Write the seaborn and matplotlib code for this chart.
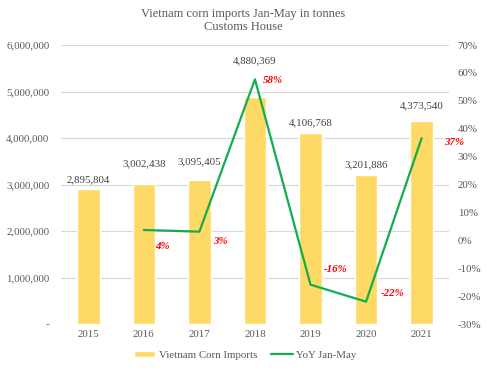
import numpy as np
import pandas as pd
import matplotlib
matplotlib.use("Agg")
import matplotlib.pyplot as plt
import matplotlib.ticker as mticker
import seaborn as sns

years = ["2015", "2016", "2017", "2018", "2019", "2020", "2021"]
imports = [2895804, 3002438, 3095405, 4880369, 4106768, 3201886, 4373540]
yoy_years = ["2016", "2017", "2018", "2019", "2020", "2021"]
yoy = [3.7, 3.1, 57.7, -15.9, -22.0, 36.6]
yoy_labels = ["4%", "3%", "58%", "-16%", "-22%", "37%"]
title = "Vietnam corn imports Jan-May in tonnes\nCustoms House"

sns.set_theme(style="white")
plt.rcParams["font.family"] = ["Liberation Serif", "DejaVu Serif"]

GRAY = "#595959"
BAR = "#FFD966"
GREEN = "#12AD4E"
FS = 7.8

fig = plt.figure(figsize=(4.86, 3.70), dpi=100)
ax = fig.add_axes([60.5 / 486, 1 - 324 / 370, (449.4 - 60.5) / 486, (324 - 45) / 370])

df = pd.DataFrame({"year": years, "imports": imports})
sns.barplot(data=df, x="year", y="imports", color=BAR, width=0.405, ax=ax,
            saturation=1, label="Vietnam Corn Imports", legend=False)
ax.set_ylim(0, 6000000)
ax.set_xlim(-0.5, len(years) - 0.5)
ax.yaxis.set_major_locator(mticker.MultipleLocator(1000000))
ax.yaxis.set_major_formatter(mticker.FuncFormatter(lambda v, p: "-" if v == 0 else f"{int(v):,}"))
ax.grid(axis="y", color="#D9D9D9", lw=0.8)
ax.set_axisbelow(True)
for s in ax.spines.values():
    s.set_visible(False)
ax.set_xlabel("")
ax.set_ylabel("")
ax.tick_params(axis="y", length=0, pad=8, labelsize=FS, labelcolor=GRAY)
ax.tick_params(axis="x", length=0, pad=4, labelsize=FS, labelcolor=GRAY)

# value labels (pixel offsets above bar tops)
val_off = [10, 21, 18, 36, 10, 10, 15]
for i, (v, off) in enumerate(zip(imports, val_off)):
    ax.annotate(f"{v:,}", (i, v), xytext=(0, off * 0.72), textcoords="offset points",
                ha="center", va="center", fontsize=FS, color="#404040")

ax2 = ax.twinx()
pos = [years.index(y) for y in yoy_years]
sns.lineplot(x=pos, y=yoy, ax=ax2, color=GREEN, lw=1.6, label="YoY Jan-May", legend=False)
ax2.set_ylim(-30, 70)
ax2.yaxis.set_major_locator(mticker.MultipleLocator(10))
ax2.yaxis.set_major_formatter(mticker.FuncFormatter(lambda v, p: f"{int(round(v))}%"))
ax2.tick_params(axis="y", length=0, pad=6, labelsize=FS, labelcolor=GRAY)
for s in ax2.spines.values():
    s.set_visible(False)
ax2.grid(False)
ax2.set_xlim(-0.5, len(years) - 0.5)

pct_off = [(18.7, -16.7), (21, -9.5), (18, -1.4), (25.5, 15.4), (26.7, 7.7), (32.7, -4.5)]
for p, v, lab, (dx, dy) in zip(pos, yoy, yoy_labels, pct_off):
    ax2.annotate(lab, (p, v), xytext=(dx * 0.72, dy * 0.72), textcoords="offset points",
                 ha="center", va="center", fontsize=FS, color="#FF0000",
                 fontweight="bold", fontstyle="italic")

fig.text(0.5, 1 - 20.5 / 370, title, ha="center", va="center", fontsize=9,
         color=GRAY, linespacing=1.2)

h1, l1 = ax.get_legend_handles_labels()
h2, l2 = ax2.get_legend_handles_labels()
leg = fig.legend(h1 + h2, l1 + l2, loc="center", bbox_to_anchor=(245 / 486, 1 - 355 / 370),
                 ncol=2, frameon=False, fontsize=FS, handlelength=2.0, handleheight=0.5,
                 columnspacing=1.3, handletextpad=0.3)
for t in leg.get_texts():
    t.set_color(GRAY)

fig.savefig("out.png", dpi=100)
